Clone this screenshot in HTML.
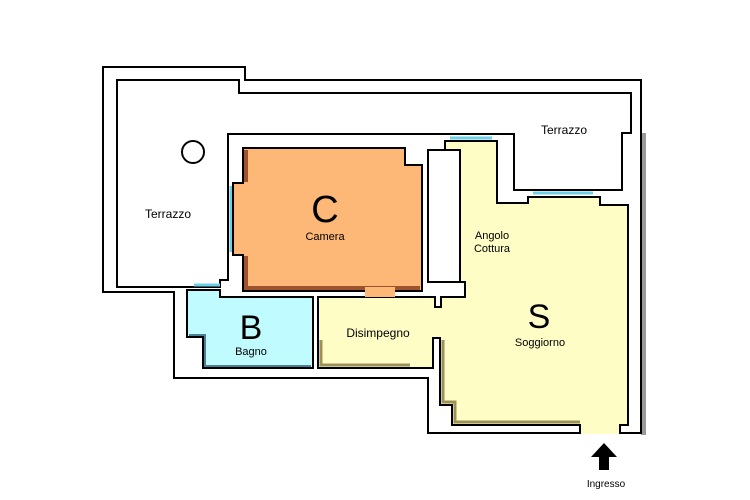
<!DOCTYPE html>
<html><head><style>body{margin:0;background:#fff}svg{display:block}text{font-family:"Liberation Sans",sans-serif;fill:#000}</style></head>
<body>
<svg width="750" height="500" viewBox="0 0 750 500" xmlns="http://www.w3.org/2000/svg">
<!-- shadows -->
<rect x="641" y="133" width="5" height="302" fill="#999"/>
<rect x="228" y="129" width="222" height="6" fill="#aaa"/>
<rect x="497" y="129" width="18" height="5" fill="#aaa"/>
<rect x="175" y="275" width="20" height="5" fill="#aaa"/>
<!-- outer -->
<polygon points="103,67 245,67 245,80 641,80 641,433 428,433 428,378 174,378 174,292 103,292" fill="#fff" stroke="#000" stroke-width="2"/>
<!-- terrace -->
<polygon points="117,80 239,80 239,93 631,93 631,133 622,133 622,190 514,190 514,134 228,134 228,280 220,280 220,287 117,287" fill="#fff" stroke="#000" stroke-width="2"/>
<!-- windows -->
<line x1="231" y1="186" x2="231" y2="252" stroke="#6cd0e8" stroke-width="3"/>
<line x1="450" y1="138" x2="492" y2="138" stroke="#6cd0e8" stroke-width="3"/>
<line x1="533" y1="193" x2="593" y2="193" stroke="#6cd0e8" stroke-width="3"/>
<line x1="194" y1="285" x2="220" y2="285" stroke="#6cd0e8" stroke-width="3"/>
<circle cx="193" cy="152" r="11" fill="#fff" stroke="#000" stroke-width="2"/>
<!-- yellow -->
<polygon points="445,141 497,141 497,203 528,203 528,197 600,197 600,205 628,205 628,425 620,425 620,433 580,433 580,425 452,425 452,405 440,405 440,338 433,338 433,368 318,368 318,297 435,297 435,307 441,307 441,297 465,297 465,282 460,282 460,150 445,150" fill="#fefdc6" stroke="#000" stroke-width="2"/>
<polyline points="443,340 443,402 455,402 455,422 580,422" fill="none" stroke="#9c9258" stroke-width="3"/>
<polyline points="321,340 321,365 410,365" fill="none" stroke="#9c9258" stroke-width="3"/>
<line x1="581" y1="433" x2="619" y2="433" stroke="#fefdc6" stroke-width="2"/>
<rect x="428" y="150" width="32" height="132" fill="#fff" stroke="#000" stroke-width="2"/>
<!-- camera -->
<polygon points="243,148 405,148 405,165 422,165 422,291 243,291 243,255 233,255 233,183 243,183" fill="#fdb877" stroke="#000" stroke-width="2"/>
<polyline points="246,150 246,182" fill="none" stroke="#a0522d" stroke-width="4"/>
<polyline points="246,256 246,288 420,288" fill="none" stroke="#a0522d" stroke-width="4"/>
<rect x="365" y="287" width="30" height="10" fill="#fdb877"/>
<!-- bagno -->
<polygon points="187,290 220,290 220,297 313,297 313,368 203,368 203,337 187,337" fill="#c0fcff" stroke="#000" stroke-width="2"/>
<polyline points="189,335 205,335 205,366 311,366" fill="none" stroke="#4a7f95" stroke-width="2"/>
<!-- arrow -->
<polygon points="604,443 617,457 609,457 609,470 599,470 599,457 591,457" fill="#000"/>
<!-- text -->
<text x="325" y="222" font-size="38" text-anchor="middle">C</text>
<text x="325" y="240" font-size="11" text-anchor="middle">Camera</text>
<text x="251" y="339" font-size="34" text-anchor="middle">B</text>
<text x="251" y="355" font-size="11" text-anchor="middle">Bagno</text>
<text x="539" y="328" font-size="34" text-anchor="middle">S</text>
<text x="540" y="346" font-size="11" text-anchor="middle">Soggiorno</text>
<text x="378" y="337" font-size="12" text-anchor="middle">Disimpegno</text>
<text x="168" y="218" font-size="12" text-anchor="middle">Terrazzo</text>
<text x="564" y="134" font-size="12" text-anchor="middle">Terrazzo</text>
<text x="492" y="239" font-size="11" text-anchor="middle">Angolo</text>
<text x="492" y="252" font-size="11" text-anchor="middle">Cottura</text>
<text x="606" y="487" font-size="10" text-anchor="middle">Ingresso</text>
</svg>
</body></html>
